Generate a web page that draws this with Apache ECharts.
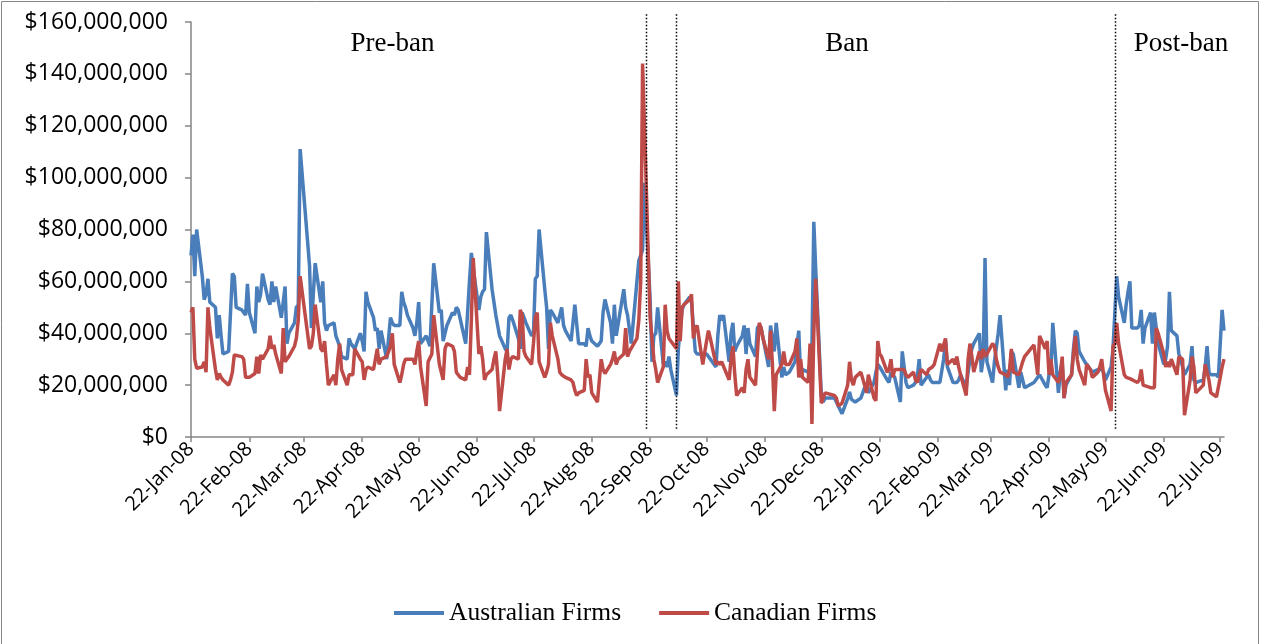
<!DOCTYPE html>
<html><head><meta charset="utf-8">
<script src="https://cdn.jsdelivr.net/npm/echarts@6/dist/echarts.min.js"></script>
<style>html,body{margin:0;padding:0;background:#fff}#c{width:1264px;height:644px}</style>
</head><body><div id="c"></div>
<script>
// Daily trading value, $ millions, one value per weekday from 22-Jan-08 to 24-Jul-09 (null = market holiday)
const australianFirms = [
 70,78,62,80,
 62,53,55,61,52, 50,38,47,39,32, 33,33,63,62,50, 49,48,47,59,48, 40,58,52,55,63,
 53,51,60,52,58, 46,52,58,36,40, 44,50,51,111,null, null,66,42,55,67,
 52,60,44,41,43, 44,39,39,35,31, 30,38,36,36,34, 40,37,33,56,52,
 46,41,42,34,41, 30,30,46,44,43, 43,56,52,50,47, 42,39,44,52,36, 39,39,35,51,67,
 48,49,37,40,43, 48,47,50,49,49, 36,48,60,71,65, 49,54,56,57,79,
 57,52,47,43,39, 34,33,46,47,45, 38,34,48,46,44, 39,40,61,62,80,
 57,50,34,49,48, 44,47,50,43,41, 37,44,51,51,36, 36,35,42,39,37, 35,36,37,48,53,
 44,36,51,39,39, 57,50,47,47,36, 60,68,70,72,98, 53,29,39,40,50,
 28,29,27,31,26, 16,34,42,49,51, 54,52,52,33,32, 32,32,32,31,31, 27,39,47,45,47,
 29,40,44,33,35, 39,43,32,42,36, 31,42,43,42,42, 27,43,38,33,44,
 23,27,24,24,25, 29,35,41,23,26, 25,28,34,83,65, 16,13.5,15,null,null, 15,13.5,12,null,9,
 14.8,17.4,14.5,14.2,13.5, 15,15,19,21,17, 21,25,28,27,27, 22,21,25,24,23,
 13.5,33,33,21,19, 20,21,23,30,20, 23,24,22,21,21, 21,21,30,37,27,
 21,21,21,22,24, 19,25,30,34,36, 40,25,30,69,29, 21,29,29,40,47,
 18,26,20,33,32, 19,25,22,19,null, null,21,22,23,24, 20,19,24,25,44, 17,25,29,15,20,
 24,34,41,40,33, 29,28,28,26,25, 26,26,26,25,22, 27,34,48,62,54,
 44,51,56,60,42, 42,43,49,36,42, 48,36,48,48,36, 28,30,35,56,41,
 39,32,30,27,24, 28,35,22,21,21, 22,27,35,25,24, 24,23,23,49,41
];
const canadianFirms = [
 48,50,30,26.5,
 27,29,25,50,42, 26,22,24.5,23,22, 20,22,25,31.6,31, 31,30,23,22.5,23, 24.5,31,24.5,31.6,30,
 34,39,34,35.5,32, 24.5,42,29,29.7,31, 35,38,45,62,null, null,34,35,40,51,
 34,33,37,28,20, 24,20,30,36,26, 20,24,24,24,34, 30,29,22,26,27,
 26,30,34,28,30, 31,31,35,40,28, 21,24,28,30,30, 30,28,33,37,27, 12,29,29,32,47,
 28,25,22,34,36, 35,33,25,24,23, 22,27,24,45,69, 32,35,30,22,24,
 26,30,33,24,10, 30,34,26,30,31, 30,49,47,33,31, 28,36,46,48,29,
 23,25,28,44,39, 30,25,24,24,23, 22,21,18,16,17, 18,30,23,24,17, 13.5,14,30,26,24.5,
 28,30,33,28,30, 32,42,31,33,33, 38,45,60,144,120, 46,46,30,26,21,
 27,51,41,38,37, 34,60,37,50,51, 53,55,38,42,43, 28,28,37,41,38, 28,29,28,29,29,
 22,30,35,24,16, 19,17,26,30,23, 20,32,44,42,38, 30,41,28,10,24,
 28,33,28,28,28, 33,38,23,30,23, 21,36,5,40,61, 13,15,17,null,null, 16,15,12,null,13,
 20,29,22,20,23, 25,25,20,17,24, 15,14,37,32,31, 25,26,30,23,26,
 26,26,26,24,23, 25,22,21,21,26, 24,26,26,27,28, 36,33,33,38,28,
 30,28,31,27,24, 16,30,36,31,25, 33,30,34,31,32, 36,35,30,27,25,
 24,23,26,34,25, 24,24,29,31,null, null,35.5,35,24,39, 34,37,24,30,24, 21,24,31,15,21,
 24,32,39,30,26, 20,28,27,26,23, 25,27,30,24,18, 10,35,36,44,36,
 24,23,23,22.5,22, 21,22,26,20,20, 19,19,19,42,40, 32,27,29,27,30,
 24,31,31,30,8.4, 22,31,27,17,17, 20,28,28,22,17, 15.5,15,23,27,30
];
const seriesNames = ['Australian Firms', 'Canadian Firms'];
const firstDay = [2008, 0, 22], lastDay = [2009, 6, 24];
const periodLabels = ['Pre-ban', 'Ban', 'Post-ban'];
const periodMarkers = ['20-Sep-08', '6-Oct-08', '27-May-09'];
const yMax = 160, yStep = 20; // $ millions

const MON = ['Jan','Feb','Mar','Apr','May','Jun','Jul','Aug','Sep','Oct','Nov','Dec'];
const days = [], ausData = [], canData = [];
let t = Date.UTC(...firstDay), tEnd = Date.UTC(...lastDay), k = 0;
while (t <= tEnd) {
  const d = new Date(t);
  const lab = d.getUTCDate() + '-' + MON[d.getUTCMonth()] + '-' + String(d.getUTCFullYear()).slice(2);
  days.push(lab);
  const wd = d.getUTCDay();
  if (wd >= 1 && wd <= 5) { ausData.push(australianFirms[k]); canData.push(canadianFirms[k]); k++; }
  else { ausData.push(null); canData.push(null); }
  t += 86400000;
}
const is22 = (i, v) => String(v).startsWith('22-');
const axisGray = '#868686';

const chart = echarts.init(document.getElementById('c'), null, {renderer: 'canvas'});
chart.setOption({
  animation: false,
  backgroundColor: '#fff',
  grid: {left: 191, right: 40, top: 22, bottom: 207, containLabel: false},
  legend: {
    data: seriesNames, left: 389, top: 595, icon: 'rect', itemWidth: 50, itemHeight: 4, itemGap: 38,
    textStyle: {fontFamily: 'Liberation Serif', fontSize: 25.5, color: '#000'}
  },
  xAxis: {
    type: 'category', data: days, boundaryGap: false,
    axisLine: {lineStyle: {color: axisGray, width: 1.5}},
    axisTick: {show: true, interval: is22, length: 5, lineStyle: {color: axisGray, width: 1.5}},
    axisLabel: {interval: is22, rotate: 45, margin: 9, fontFamily: 'Open Sans', fontSize: 20, color: '#000'},
    splitLine: {show: false}
  },
  yAxis: {
    type: 'value', min: 0, max: yMax, interval: yStep,
    axisLine: {show: true, lineStyle: {color: axisGray, width: 1.5}},
    axisTick: {show: true, length: 6, lineStyle: {color: axisGray, width: 1.5}},
    axisLabel: {margin: 23, fontFamily: 'Open Sans', fontSize: 23, color: '#000',
      formatter: v => '$' + (v * 1e6).toLocaleString('en-US')},
    splitLine: {show: false}
  },
  series: [
    {name: seriesNames[0], type: 'line', data: ausData, connectNulls: true, showSymbol: false, symbol: 'none',
     color: '#4A7EBB', lineStyle: {width: 3.5, color: '#4A7EBB'}, emphasis: {disabled: true}},
    {name: seriesNames[1], type: 'line', data: canData, connectNulls: true, showSymbol: false, symbol: 'none',
     color: '#BE4B48', lineStyle: {width: 3.5, color: '#BE4B48'}, emphasis: {disabled: true}}
  ]
});

const yTop = chart.convertToPixel({yAxisIndex: 0}, 163);
const yBot = chart.convertToPixel({yAxisIndex: 0}, 2.7);
const g = periodMarkers.map(m => {
  const x = Math.round(chart.convertToPixel({xAxisIndex: 0}, m)) + 0.5;
  return {type: 'line', silent: true, z: 10, shape: {x1: x, y1: yTop, x2: x, y2: yBot},
          style: {stroke: '#000', lineWidth: 1.5, lineDash: [1.5, 2]}};
});
const labelPos = [[392.5, 44], [847, 44], [1181, 44]];
periodLabels.forEach((s, i) => g.push({type: 'text', silent: true, z: 10, x: labelPos[i][0], y: labelPos[i][1],
  style: {text: s, fontFamily: 'Liberation Serif', fontSize: 27, fill: '#000', align: 'center', verticalAlign: 'middle'}}));
g.push({type: 'rect', silent: true, z: 0, shape: {x: 1.5, y: 1.5, width: 1257, height: 700},
  style: {fill: 'none', stroke: '#878787', lineWidth: 1}});
chart.setOption({graphic: g});
</script></body></html>
